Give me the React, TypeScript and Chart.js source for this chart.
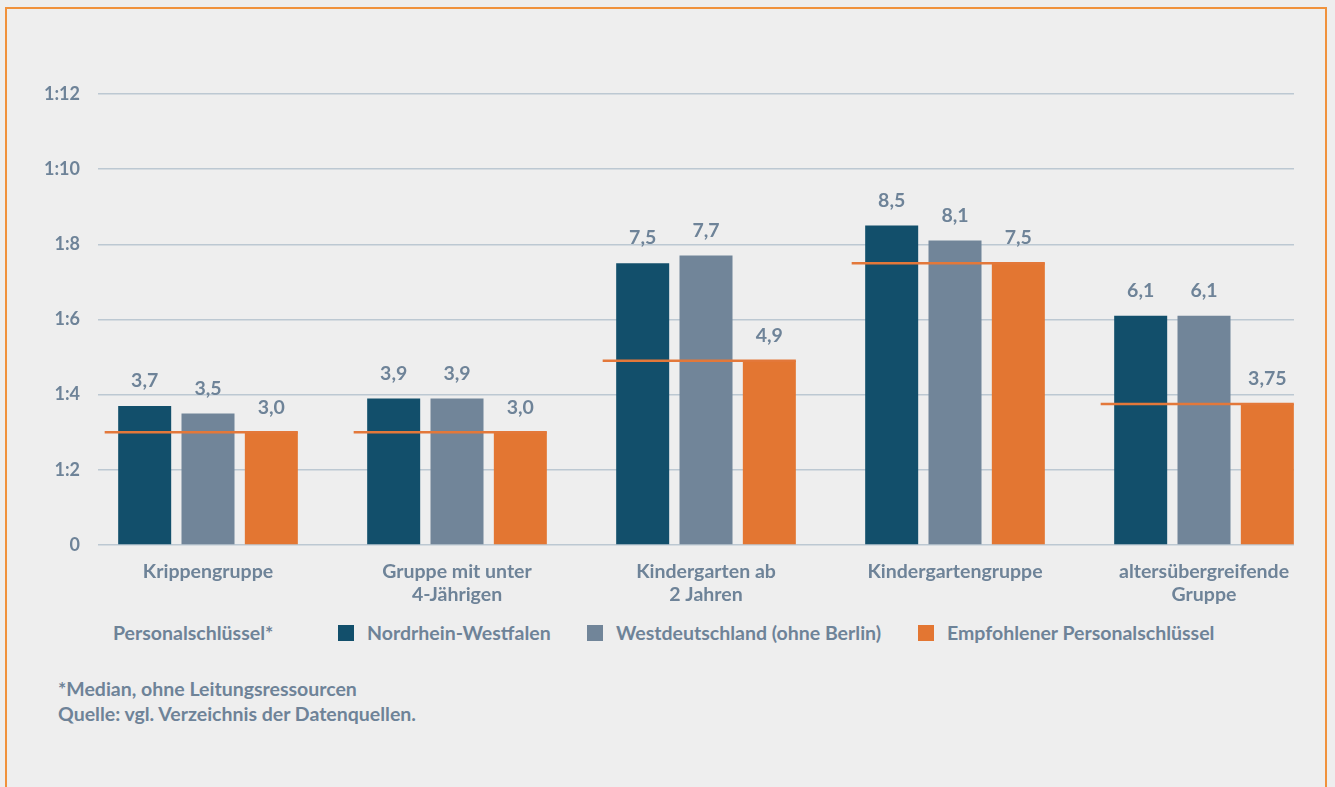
import React, { useEffect, useRef } from 'react';
import { Chart, registerables } from 'chart.js';

Chart.register(...registerables);

const categories: string[][] = [
  ['Krippengruppe'],
  ['Gruppe mit unter', '4-Jährigen'],
  ['Kindergarten ab', '2 Jahren'],
  ['Kindergartengruppe'],
  ['altersübergreifende', 'Gruppe'],
];
const nrw = [3.7, 3.9, 7.5, 8.5, 6.1];
const west = [3.5, 3.9, 7.7, 8.1, 6.1];
const empfohlen = [3.0, 3.0, 4.9, 7.5, 3.75];
const seriesNames = ['Nordrhein-Westfalen', 'Westdeutschland (ohne Berlin)', 'Empfohlener Personalschlüssel'];
const legendTitle = 'Personalschlüssel*';
const footnotes = ['*Median, ohne Leitungsressourcen', 'Quelle: vgl. Verzeichnis der Datenquellen.'];
const yMin = 0;
const yMax = 12;
const yStep = 2;

const COLORS = ['#124f6b', '#718599', '#e37632'];
const LINE_COLOR = '#e3783a';
const TEXT = '#6e8398';
const GRID = '#bcc8d2';
const BG = '#eeeeee';
const FONT = 'Lato, "Source Sans Pro", sans-serif';
const FS = 19.5;

const W = 1335;
const H = 612;

const fmt = (v: number) => (Math.round(v * 10) === v * 10 ? v.toFixed(1) : v.toFixed(2)).replace('.', ',');

const overlay = {
  id: 'overlay',
  afterDatasetsDraw(chart: any) {
    const ctx = chart.ctx;
    const ys = chart.scales.y;
    const m0 = chart.getDatasetMeta(0);
    const m2 = chart.getDatasetMeta(2);
    ctx.save();
    ctx.strokeStyle = LINE_COLOR;
    ctx.lineWidth = 2.5;
    empfohlen.forEach((v, i) => {
      const b0 = m0.data[i];
      const b2 = m2.data[i];
      const left = b0.x - b0.width / 2 - 13.5;
      const right = b2.x + b2.width / 2;
      const py = ys.getPixelForValue(v);
      ctx.beginPath();
      ctx.moveTo(left, py);
      ctx.lineTo(right, py);
      ctx.stroke();
    });
    ctx.font = `bold ${FS}px ${FONT}`;
    ctx.fillStyle = TEXT;
    ctx.textAlign = 'center';
    ctx.textBaseline = 'middle';
    chart.data.datasets.forEach((ds: any, di: number) => {
      chart.getDatasetMeta(di).data.forEach((bar: any, i: number) => {
        ctx.fillText(fmt(ds.data[i].y), bar.x, bar.y - 25);
      });
    });
    ctx.restore();
  },
};

export default function App() {
  const ref = useRef<HTMLCanvasElement>(null);

  useEffect(() => {
    if (!ref.current) return;
    const series = [nrw, west, empfohlen];
    const chart = new Chart(ref.current, {
      type: 'bar',
      data: {
        datasets: series.map((arr, si) => ({
          label: seriesNames[si],
          data: arr.map((v, i) => ({ x: i, y: v })),
          backgroundColor: COLORS[si],
          borderWidth: 0,
          categoryPercentage: 0.763,
          barPercentage: 0.837,
        })),
      },
      options: {
        responsive: false,
        animation: false,
        layout: { padding: { left: 0, right: W - 1294, top: 94, bottom: 0 } },
        plugins: { legend: { display: false }, tooltip: { enabled: false } },
        scales: {
          x: {
            type: 'linear',
            offset: false,
            min: -0.4418,
            max: 4.3614,
            afterBuildTicks: (s: any) => {
              s.ticks = categories.map((_, i) => ({ value: i }));
            },
            afterFit: (s: any) => {
              s.height = H - 545;
            },
            grid: { display: false, offset: false },
            border: { display: false },
            ticks: {
              autoSkip: false,
              maxRotation: 0,
              padding: 7,
              color: TEXT,
              font: { family: FONT, size: FS, weight: 'bold', lineHeight: 23 / FS },
              callback: (v: any) => categories[Math.round(v)] ?? '',
            },
          },
          y: {
            min: yMin,
            max: yMax,
            afterFit: (s: any) => {
              s.width = 98;
            },
            grid: { color: GRID, lineWidth: 1.5, drawTicks: false },
            border: { display: false },
            ticks: {
              stepSize: yStep,
              padding: 18,
              color: TEXT,
              font: { family: FONT, size: 18, weight: 'bold' },
              callback: (v: any) => (v === 0 ? '0' : '1:' + v),
            },
          },
        },
      },
      plugins: [overlay],
    } as any);
    return () => chart.destroy();
  }, []);

  const textStyle: React.CSSProperties = {
    position: 'absolute',
    fontFamily: FONT,
    fontWeight: 'bold',
    fontSize: FS,
    color: TEXT,
    lineHeight: '24px',
    whiteSpace: 'nowrap',
  };
  const legendY = 621;
  const items = [
    { m: 338, t: 367 },
    { m: 587, t: 616 },
    { m: 918, t: 947 },
  ];

  return (
    <div style={{ position: 'fixed', left: 0, top: 0, width: W, height: 787, background: BG, overflow: 'hidden' }}>
      <div
        style={{
          position: 'absolute',
          left: 5,
          top: 7,
          width: 1322,
          height: 820,
          border: '2px solid #f0923c',
          boxSizing: 'border-box',
        }}
      />
      <canvas ref={ref} width={W} height={H} style={{ position: 'absolute', left: 0, top: 0, width: W, height: H }} />
      <div style={{ ...textStyle, left: 113, top: legendY }}>{legendTitle}</div>
      {items.map((it, i) => (
        <React.Fragment key={i}>
          <div style={{ position: 'absolute', left: it.m, top: legendY + 4, width: 16, height: 16, background: COLORS[i] }} />
          <div style={{ ...textStyle, left: it.t, top: legendY }}>{seriesNames[i]}</div>
        </React.Fragment>
      ))}
      <div style={{ ...textStyle, left: 58, top: 677 }}>{footnotes[0]}</div>
      <div style={{ ...textStyle, left: 58, top: 702 }}>{footnotes[1]}</div>
    </div>
  );
}
